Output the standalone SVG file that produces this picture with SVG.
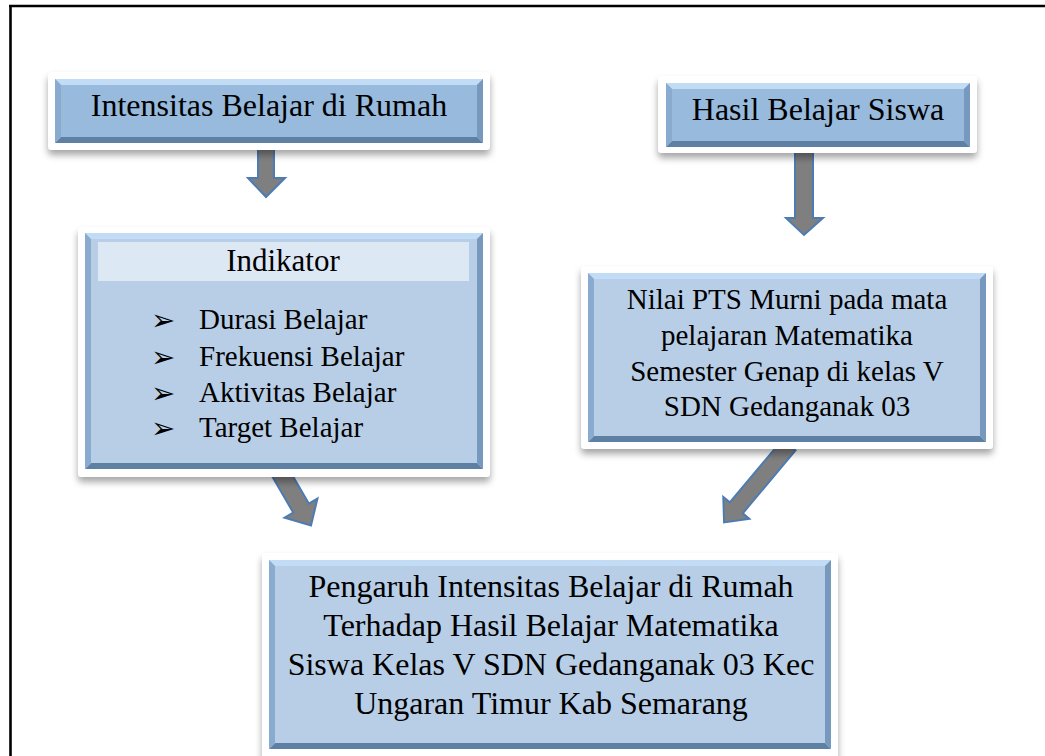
<svg xmlns="http://www.w3.org/2000/svg" width="1045" height="756" viewBox="0 0 1045 756">
<style>
.frame{fill:#ffffff;filter:url(#sh)}
.dk{fill:#97badd}
.lt{fill:#b8cee6}
.bt{fill:#c3dcf5}
.bb{fill:#5f80a5}
.bl{fill:#89abd0}
.br{fill:#7799be}
.hdr{fill:#dde8f5}
.t{font-family:"Liberation Serif","Times New Roman",serif;fill:#000}
.bul{font-family:"DejaVu Sans",sans-serif;font-size:29px;fill:#000}
.arr{fill:#7f7f7f;stroke:#4d7cb2;stroke-width:2;stroke-linejoin:miter}
</style>
<defs>
<filter id="sh" x="-10%" y="-20%" width="120%" height="150%">
<feDropShadow dx="0" dy="5" stdDeviation="3.5" flood-color="#000" flood-opacity="0.35"/>
</filter>
</defs>
<rect width="1045" height="756" fill="#ffffff"/>
<g id="border" fill="none" stroke="#000" stroke-width="2.6">
<line x1="9" y1="6" x2="1045" y2="6"/>
<line x1="10.5" y1="5" x2="10.5" y2="756"/>
</g>
<g id="connectors">
<polygon class="arr" points="258,148 274,148 274,178 285,178 266,197 248,178 258,178"/>
<polygon class="arr" points="795,150 813,150 813,218 823,218 804,235 786,218 795,218"/>
<g transform="translate(279,470) rotate(-30)"><polygon class="arr" points="-9,0 9,0 9,44 19,44 0,64 -19,44 -9,44"/></g>
<g transform="translate(789,445) rotate(40)"><polygon class="arr" points="-8.5,0 8.5,0 8.5,82 17,82 0,101 -17,82 -8.5,82"/></g>
</g>
<g id="node-intensitas">
<rect class="frame" x="48" y="72" width="442" height="78" rx="4"/>
<rect class="dk" x="55" y="79" width="428" height="64"/>
<polygon class="bt" points="55,79 483,79 477,85 61,85"/>
<polygon class="bb" points="55,143 483,143 477,137 61,137"/>
<polygon class="bl" points="55,79 61,85 61,137 55,143"/>
<polygon class="br" points="483,79 477,85 477,137 483,143"/>
<text class="t" x="269" y="116" font-size="32" text-anchor="middle">Intensitas Belajar di Rumah</text>
</g>
<g id="node-hasil">
<rect class="frame" x="658" y="76" width="319" height="77" rx="4"/>
<rect class="dk" x="666" y="83" width="304" height="64"/>
<polygon class="bt" points="666,83 970,83 964,89 672,89"/>
<polygon class="bb" points="666,147 970,147 964,141 672,141"/>
<polygon class="bl" points="666,83 672,89 672,141 666,147"/>
<polygon class="br" points="970,83 964,89 964,141 970,147"/>
<text class="t" x="818" y="120" font-size="32" text-anchor="middle">Hasil Belajar Siswa</text>
</g>
<g id="node-indikator">
<rect class="frame" x="78" y="227" width="412" height="250" rx="4"/>
<rect class="lt" x="85" y="233" width="398" height="236"/>
<polygon class="bt" points="85,233 483,233 477,239 91,239"/>
<polygon class="bb" points="85,469 483,469 477,463 91,463"/>
<polygon class="bl" points="85,233 91,239 91,463 85,469"/>
<polygon class="br" points="483,233 477,239 477,463 483,469"/>
<rect class="hdr" x="98" y="242" width="371" height="39"/>
<text class="t" x="283" y="271" font-size="31" text-anchor="middle">Indikator</text>
<text class="bul" x="151" y="330">➢</text>
<text class="bul" x="151" y="367">➢</text>
<text class="bul" x="151" y="403">➢</text>
<text class="bul" x="151" y="438">➢</text>
<g font-size="29">
<text class="t" x="199" y="329">Durasi Belajar</text>
<text class="t" x="199" y="366">Frekuensi Belajar</text>
<text class="t" x="199" y="402">Aktivitas Belajar</text>
<text class="t" x="199" y="437">Target Belajar</text>
</g>
</g>
<g id="node-nilai">
<rect class="frame" x="581" y="266" width="412" height="183" rx="4"/>
<rect class="lt" x="588" y="273" width="398" height="169"/>
<polygon class="bt" points="588,273 986,273 980,279 594,279"/>
<polygon class="bb" points="588,442 986,442 980,436 594,436"/>
<polygon class="bl" points="588,273 594,279 594,436 588,442"/>
<polygon class="br" points="986,273 980,279 980,436 986,442"/>
<g font-size="29" text-anchor="middle">
<text class="t" x="787" y="309">Nilai PTS Murni pada mata</text>
<text class="t" x="787" y="345">pelajaran Matematika</text>
<text class="t" x="787" y="381">Semester Genap di kelas V</text>
<text class="t" x="787" y="416">SDN Gedanganak 03</text>
</g>
</g>
<g id="node-pengaruh">
<rect class="frame" x="262" y="553" width="576" height="210" rx="4"/>
<rect class="lt" x="269" y="560" width="562" height="189"/>
<polygon class="bt" points="269,560 831,560 825,566 275,566"/>
<polygon class="bb" points="269,749 831,749 825,743 275,743"/>
<polygon class="bl" points="269,560 275,566 275,743 269,749"/>
<polygon class="br" points="831,560 825,566 825,743 831,749"/>
<g font-size="32" text-anchor="middle">
<text class="t" x="551" y="597">Pengaruh Intensitas Belajar di Rumah</text>
<text class="t" x="551" y="636">Terhadap Hasil Belajar Matematika</text>
<text class="t" x="551" y="675">Siswa Kelas V SDN Gedanganak 03 Kec</text>
<text class="t" x="551" y="714">Ungaran Timur Kab Semarang</text>
</g>
</g>
</svg>
